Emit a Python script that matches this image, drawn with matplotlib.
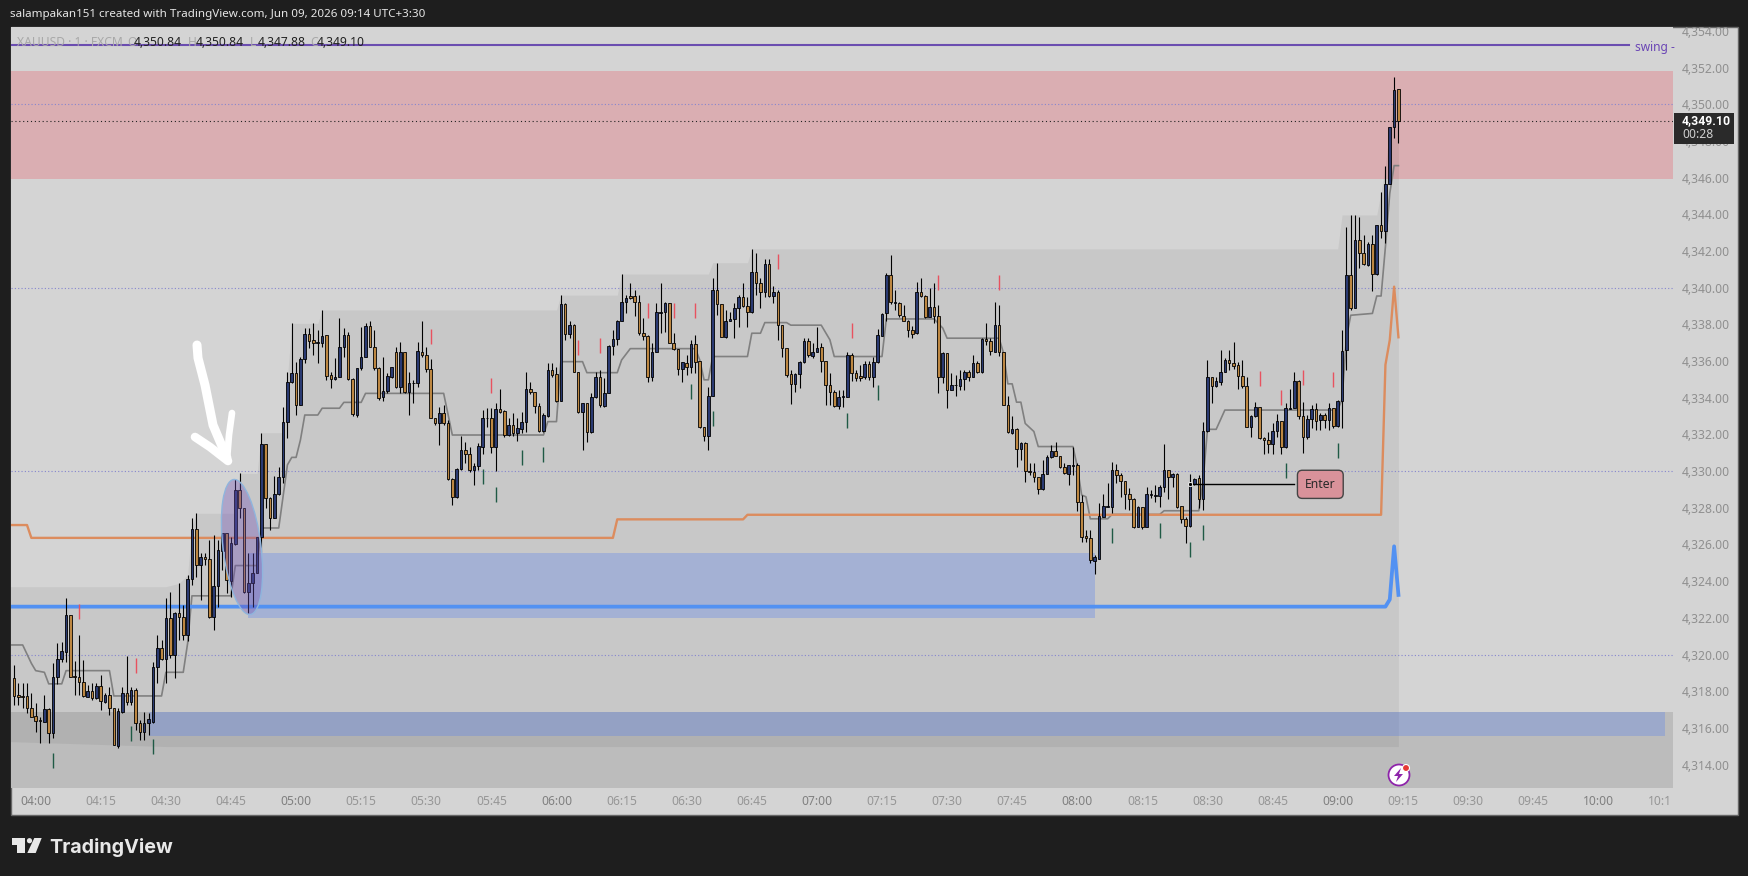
import numpy as np
import matplotlib
matplotlib.use("Agg")
import matplotlib.pyplot as plt
from matplotlib.patches import Rectangle, Ellipse, Circle, Polygon
from matplotlib.transforms import Affine2D, Bbox

plt.rcParams['font.family'] = ['Noto Sans', 'DejaVu Sans']

# one candle per minute, first candle is 5 minutes before 04:00
opens = [
    4318.70,4317.79,4317.74,4317.74,4317.07,4316.65,4316.43,4316.34,4317.01,4315.70,
    4318.79,4319.74,4320.16,4322.16,4318.83,4318.79,4318.52,4317.70,4318.03,4317.61,
    4318.29,4317.43,4317.78,4317.07,4315.02,4316.89,4317.92,4317.43,4318.07,4316.29,
    4315.80,4316.25,4316.34,4319.30,4320.34,4319.74,4321.98,4319.98,4322.25,4322.07,
    4321.07,4324.10,4326.83,4324.88,4325.30,4325.19,4322.03,4323.76,4325.67,4326.61,
    4324.03,4326.03,4328.97,4327.97,4323.43,4323.92,4324.43,4326.39,4331.48,4328.52,
    4327.43,4328.74,4329.70,4332.70,4334.84,4335.34,4333.61,4336.10,4337.46,4337.15,
    4337.01,4337.01,4337.43,4335.24,4335.03,4335.16,4336.79,4337.43,4335.01,4333.06,
    4335.61,4336.24,4337.92,4336.79,4335.61,4334.03,4334.37,4335.16,4336.48,4334.57,
    4336.48,4334.34,4334.79,4334.79,4336.52,4336.34,4335.55,4332.88,4332.65,4333.15,
    4332.61,4329.56,4328.57,4330.12,4331.16,4330.92,4330.06,4330.28,4331.34,4332.88,
    4332.88,4331.34,4333.37,4333.28,4331.97,4332.52,4332.10,4332.30,4332.66,4334.46,
    4334.34,4333.57,4332.21,4333.03,4335.52,4335.28,4333.85,4339.10,4337.46,4337.97,
    4335.43,4333.25,4333.70,4332.12,4334.03,4335.12,4333.57,4334.25,4336.84,4337.19,
    4338.21,4339.21,4339.55,4339.55,4339.21,4337.55,4337.39,4335.12,4336.48,4338.62,
    4338.66,4339.15,4337.01,4336.64,4335.55,4335.92,4335.66,4336.92,4335.98,4332.40,
    4331.89,4334.10,4339.88,4339.12,4337.34,4338.16,4338.28,4338.92,4339.48,4339.03,
    4338.67,4340.85,4340.25,4339.76,4341.30,4339.56,4339.79,4337.98,4336.70,4335.29,
    4334.74,4335.29,4335.94,4337.10,4336.30,4336.49,4336.76,4336.01,4334.70,4334.29,
    4333.56,4334.03,4334.03,4336.34,4335.34,4335.19,4335.12,4335.85,4335.12,4335.94,
    4337.39,4338.61,4340.70,4339.17,4339.16,4338.48,4338.21,4337.70,4337.52,4339.76,
    4339.56,4338.43,4338.94,4338.48,4335.12,4336.43,4334.40,4334.68,4334.65,4335.01,
    4335.40,4335.16,4335.89,4335.38,4337.19,4337.10,4336.52,4337.96,4336.49,4333.58,
    4332.07,4332.30,4331.20,4331.52,4330.01,4329.94,4329.67,4329.01,4329.83,4330.76,
    4331.11,4330.80,4330.21,4329.85,4330.29,4330.34,4328.34,4326.47,4326.34,4325.12,
    4325.23,4327.52,4328.06,4328.06,4330.06,4329.77,4329.44,4328.73,4328.46,4326.97,
    4328.03,4326.97,4328.71,4328.66,4328.66,4329.15,4330.06,4329.70,4329.84,4328.10,
    4327.41,4327.03,4329.28,4329.61,4328.48,4332.19,4335.11,4334.66,4334.88,4335.39,
    4336.06,4335.88,4335.79,4335.20,4334.64,4332.42,4333.01,4333.48,4331.79,4331.70,
    4331.46,4332.21,4332.73,4331.30,4333.40,4333.42,4334.91,4333.02,4331.84,4332.82,
    4333.37,4332.77,4333.04,4332.79,4333.42,4332.46,4333.84,4336.61,4340.70,4338.88,
    4342.60,4341.88,4341.24,4342.39,4340.73,4343.42,4343.10,4345.66,4348.75,4350.84]
highs = [
    4319.43,4318.43,4318.43,4318.43,4317.89,4317.34,4316.61,4317.79,4317.07,4319.52,
    4320.65,4320.70,4323.07,4322.16,4319.67,4321.07,4319.70,4318.34,4318.43,4318.43,
    4318.89,4317.89,4318.25,4317.07,4317.07,4318.25,4319.92,4318.25,4318.16,4316.43,
    4316.89,4316.80,4319.61,4321.07,4320.79,4323.07,4323.43,4322.34,4323.88,4322.70,
    4324.34,4327.43,4327.70,4325.56,4325.52,4326.25,4326.52,4326.25,4326.61,4326.61,
    4326.43,4329.55,4329.88,4327.97,4325.52,4325.52,4326.39,4332.10,4331.48,4328.61,
    4329.74,4330.21,4333.48,4335.43,4338.06,4335.97,4336.24,4337.79,4337.79,4338.06,
    4337.70,4338.79,4337.43,4335.43,4336.16,4338.33,4337.79,4337.61,4335.06,4335.61,
    4337.88,4338.06,4338.21,4337.70,4335.70,4336.24,4335.34,4335.70,4336.75,4337.06,
    4336.48,4335.43,4334.97,4337.06,4338.19,4336.79,4336.10,4332.88,4333.52,4333.61,
    4332.79,4329.61,4330.16,4331.92,4331.61,4331.34,4330.43,4331.52,4333.34,4333.43,
    4333.43,4333.70,4334.46,4333.34,4332.88,4333.15,4332.88,4333.25,4335.43,4334.88,
    4334.34,4333.70,4333.15,4335.92,4335.88,4335.70,4339.61,4339.15,4338.21,4338.03,
    4335.43,4333.70,4333.70,4334.28,4335.43,4335.52,4335.06,4336.88,4337.70,4338.24,
    4340.75,4339.61,4340.24,4339.88,4339.61,4338.33,4337.43,4336.97,4339.15,4340.24,
    4339.24,4339.15,4337.52,4336.64,4335.97,4336.34,4337.15,4337.43,4335.98,4332.43,
    4334.61,4340.52,4341.34,4339.12,4338.76,4338.70,4339.16,4339.61,4340.25,4339.52,
    4342.10,4341.88,4340.52,4341.56,4341.56,4340.07,4339.88,4337.98,4336.70,4335.52,
    4335.34,4335.98,4337.25,4337.25,4336.98,4337.88,4336.98,4336.01,4335.34,4334.43,
    4334.43,4334.43,4336.47,4336.43,4335.52,4335.79,4335.98,4335.98,4336.25,4337.74,
    4338.61,4340.79,4341.79,4339.88,4339.25,4339.07,4338.25,4337.92,4340.34,4340.52,
    4339.61,4339.97,4340.25,4339.07,4336.52,4336.43,4335.34,4335.25,4335.52,4335.52,
    4335.52,4336.34,4335.98,4337.25,4338.07,4337.25,4339.21,4339.07,4336.49,4334.07,
    4332.98,4332.34,4331.61,4331.61,4330.43,4330.43,4329.67,4330.61,4330.89,4331.43,
    4331.61,4330.80,4330.43,4330.34,4331.34,4330.43,4328.71,4326.80,4326.80,4325.43,
    4328.24,4328.75,4329.33,4330.48,4330.39,4329.88,4329.48,4329.06,4328.52,4328.10,
    4328.06,4329.12,4328.97,4329.24,4329.24,4331.48,4330.06,4329.92,4329.88,4328.10,
    4327.52,4329.84,4329.61,4329.79,4332.66,4336.06,4335.15,4335.15,4336.60,4336.15,
    4336.60,4337.02,4335.97,4336.06,4335.15,4333.06,4333.79,4333.51,4331.88,4332.15,
    4332.61,4333.11,4332.73,4333.70,4334.46,4335.39,4334.97,4333.79,4333.06,4333.61,
    4333.70,4333.19,4333.15,4333.70,4333.42,4333.88,4337.69,4343.33,4343.97,4343.97,
    4343.88,4342.88,4342.51,4342.88,4343.42,4345.20,4346.66,4348.75,4351.47,4350.84]
lows = [
    4317.25,4317.25,4317.07,4316.80,4316.61,4315.80,4315.16,4316.34,4315.16,4315.43,
    4318.38,4319.61,4319.61,4318.79,4317.79,4317.79,4317.70,4317.70,4317.52,4317.56,
    4316.98,4317.34,4316.71,4315.07,4314.89,4316.80,4317.25,4317.25,4315.89,4315.34,
    4315.34,4315.61,4316.25,4318.43,4319.70,4318.43,4319.79,4318.70,4320.79,4320.79,
    4320.76,4323.79,4324.25,4322.98,4324.88,4321.98,4321.34,4322.61,4324.61,4323.34,
    4323.16,4325.97,4327.43,4323.34,4322.25,4322.61,4324.43,4325.61,4327.97,4326.79,
    4327.43,4328.70,4329.34,4331.79,4334.79,4333.06,4333.61,4335.88,4336.70,4336.34,
    4335.88,4336.79,4334.97,4334.52,4334.97,4335.16,4336.24,4334.97,4333.03,4332.97,
    4335.52,4336.24,4336.79,4335.52,4333.88,4333.85,4334.25,4335.06,4334.52,4334.28,
    4334.25,4333.06,4333.70,4334.61,4336.24,4335.43,4332.88,4332.52,4331.43,4332.52,
    4329.52,4328.16,4328.52,4330.06,4330.43,4329.97,4329.25,4330.06,4330.94,4332.43,
    4330.97,4330.03,4333.19,4331.88,4331.92,4331.92,4331.66,4332.06,4332.16,4334.21,
    4333.15,4332.16,4332.16,4332.97,4335.16,4333.79,4333.85,4337.15,4337.24,4335.43,
    4333.15,4331.16,4331.61,4332.10,4333.97,4333.52,4333.52,4334.25,4336.34,4336.88,
    4338.21,4338.61,4339.37,4338.48,4337.43,4337.15,4334.88,4334.94,4336.48,4337.52,
    4337.61,4336.97,4336.61,4335.24,4334.88,4335.24,4335.34,4335.34,4332.34,4331.67,
    4331.16,4334.07,4338.52,4337.34,4337.25,4338.16,4337.25,4337.88,4338.97,4337.88,
    4338.65,4339.61,4338.88,4339.52,4339.52,4339.16,4337.16,4336.21,4335.16,4333.65,
    4334.29,4334.52,4335.89,4336.25,4336.16,4336.49,4335.43,4333.61,4333.61,4333.52,
    4333.38,4333.52,4334.03,4334.89,4334.89,4334.89,4335.01,4334.98,4334.61,4335.92,
    4337.37,4338.16,4339.12,4338.79,4338.39,4338.16,4337.34,4337.25,4337.48,4339.52,
    4338.34,4338.39,4338.07,4334.25,4334.80,4333.43,4334.40,4334.10,4334.43,4334.43,
    4334.89,4335.16,4335.34,4335.34,4336.89,4336.34,4336.52,4336.28,4333.61,4332.10,
    4332.03,4330.25,4330.61,4329.43,4329.80,4329.43,4328.74,4328.98,4329.83,4330.71,
    4330.80,4330.16,4329.83,4329.25,4329.80,4327.85,4326.16,4326.16,4324.98,4324.38,
    4325.23,4327.52,4328.06,4327.73,4329.37,4328.61,4327.92,4327.88,4326.88,4326.93,
    4326.83,4326.97,4328.52,4328.34,4328.06,4328.84,4328.46,4329.15,4327.97,4327.15,
    4326.06,4326.97,4329.24,4327.97,4327.88,4332.15,4333.70,4334.60,4334.70,4335.39,
    4335.51,4335.55,4334.46,4334.51,4332.39,4331.88,4332.97,4331.73,4330.92,4331.01,
    4330.92,4331.84,4330.92,4331.28,4333.37,4333.42,4332.84,4331.01,4331.73,4332.33,
    4332.24,4332.24,4332.33,4332.24,4332.33,4332.42,4332.33,4335.52,4338.79,4338.88,
    4341.10,4341.24,4341.20,4339.84,4340.70,4342.70,4342.46,4345.64,4348.15,4347.88]
closes = [
    4317.76,4317.70,4317.70,4317.07,4316.61,4316.40,4316.38,4317.01,4315.70,4318.79,
    4319.74,4320.19,4322.16,4318.79,4318.78,4318.52,4317.74,4318.03,4317.61,4318.29,
    4317.47,4317.78,4317.07,4315.07,4316.92,4317.92,4317.43,4318.07,4316.29,4315.80,
    4316.25,4316.49,4319.30,4320.34,4319.74,4321.98,4319.98,4322.25,4322.07,4321.07,
    4324.10,4326.83,4324.88,4325.30,4325.19,4322.03,4323.76,4325.70,4326.61,4324.07,
    4326.07,4328.97,4327.97,4323.43,4323.92,4324.43,4326.39,4331.48,4328.52,4327.43,
    4328.74,4329.70,4332.70,4334.84,4335.34,4333.61,4336.10,4337.46,4337.12,4337.01,
    4337.04,4337.39,4335.19,4335.03,4335.16,4336.79,4337.43,4335.01,4333.10,4335.61,
    4336.24,4337.92,4336.79,4335.61,4333.97,4334.37,4335.19,4335.66,4334.57,4336.48,
    4334.34,4334.79,4334.83,4336.55,4336.32,4335.55,4332.88,4332.65,4333.15,4332.61,
    4329.56,4328.57,4330.12,4331.16,4330.92,4330.06,4330.28,4331.37,4332.88,4332.92,
    4331.34,4333.37,4333.25,4331.97,4332.52,4332.10,4332.34,4332.66,4334.46,4334.32,
    4333.57,4332.21,4333.06,4335.52,4335.24,4333.85,4339.10,4337.46,4337.97,4335.43,
    4333.25,4333.70,4332.12,4334.03,4335.12,4333.61,4334.25,4336.84,4337.19,4338.21,
    4339.21,4339.46,4339.42,4339.21,4337.55,4337.39,4335.12,4336.48,4338.66,4338.66,
    4339.15,4337.01,4336.64,4335.55,4335.94,4335.66,4336.92,4335.97,4332.40,4331.89,
    4334.07,4339.88,4339.12,4337.34,4338.19,4338.28,4338.92,4339.48,4339.03,4338.67,
    4340.85,4340.25,4339.76,4341.30,4339.56,4339.79,4337.98,4336.70,4335.25,4334.74,
    4335.29,4335.94,4337.10,4336.34,4336.52,4336.74,4336.01,4334.70,4334.29,4333.56,
    4334.03,4334.07,4336.34,4335.34,4335.07,4335.07,4335.85,4335.12,4335.94,4337.43,
    4338.58,4340.70,4339.21,4339.21,4338.52,4338.21,4337.70,4337.48,4339.76,4339.56,
    4338.43,4338.94,4338.46,4335.12,4336.43,4334.40,4334.70,4334.72,4335.01,4335.43,
    4335.16,4335.89,4335.38,4337.19,4337.09,4336.56,4337.96,4336.49,4333.61,4332.12,
    4332.29,4331.20,4331.56,4330.01,4329.96,4329.67,4329.01,4329.83,4330.76,4331.11,
    4330.80,4330.21,4329.89,4330.31,4330.33,4328.34,4326.43,4326.34,4325.16,4325.29,
    4327.55,4328.10,4328.12,4330.06,4329.77,4329.44,4328.73,4328.46,4326.93,4328.03,
    4326.97,4328.73,4328.75,4328.70,4329.15,4330.06,4329.70,4329.84,4328.06,4327.41,
    4327.03,4329.34,4329.57,4328.48,4332.19,4335.11,4334.66,4334.91,4335.39,4336.06,
    4335.88,4335.75,4335.20,4334.64,4332.42,4333.02,4333.48,4331.79,4331.68,4331.46,
    4332.21,4332.73,4331.30,4333.42,4333.44,4334.91,4333.02,4331.84,4332.82,4333.37,
    4332.73,4333.06,4332.79,4333.42,4332.46,4333.84,4336.57,4340.70,4338.88,4342.60,
    4341.88,4341.28,4342.39,4340.73,4343.42,4343.10,4345.66,4348.75,4350.78,4349.10]

# indicator lines as (minute, price) corner points
gray_m = [-6,-3,-1,0,2,3,6,7,17,18,29,30,34,35,36,45,46,51,52,56,58,59,60,61,62,65,66,70,71,75,76,94,96,117,118,120,
          121,126,127,134,135,137,152,153,154,155,156,164,165,167,168,173,174,181,183,184,195,196,207,209,210,222,
          223,224,225,226,227,228,230,231,239,240,241,242,243,247,248,259,260,268,269,270,272,274,300,301,302,303,
          308,309,310,311,312,313,314]
gray_p = [4320.52,4320.52,4319.52,4319.12,4319.03,4318.4,4318.4,4319.12,4319.12,4317.74,4317.74,4319.03,4319.03,
          4320.6,4323.2,4323.2,4324.85,4324.85,4326.9,4326.9,4330.34,4330.75,4330.75,4331.7,4333.06,4333.06,4333.43,
          4333.43,4333.75,4333.75,4334.24,4334.24,4331.97,4331.97,4332.7,4332.7,4335.97,4335.97,4335.37,4335.37,
          4336.06,4336.68,4336.68,4336.07,4334.98,4334.98,4336.25,4336.25,4337.52,4337.52,4338.1,4338.1,4337.96,
          4337.96,4337.16,4336.25,4336.25,4338.3,4338.3,4337.8,4337.25,4337.25,4336.43,4334.76,4334.76,4333.76,
          4333.76,4332.6,4332.16,4331.34,4331.34,4330.25,4328.7,4328.6,4327.4,4327.4,4327.64,4327.64,4327.84,
          4327.84,4329.5,4332.28,4332.28,4333.33,4333.33,4333.9,4337.24,4338.5,4338.6,4339.55,4339.55,4342.24,
          4345.15,4346.66,4346.66]
orange_m = [-6,-2,-1,133,134,163,164,310,311,312,313,314]
orange_p = [4327.06,4327.06,4326.36,4326.36,4327.37,4327.37,4327.62,4327.62,4335.8,4337.15,4340.06,4337.3]
blue_m = [-6,311,312,313,314]
blue_p = [4322.61,4322.61,4323.0,4325.9,4323.25]

# stepped range behind the candles
range_hi_m = [-6,30,33,35,36,37,46,47,51,52,57,59,65,66,120,121,134,135,155,156,164,165,300,301,309,310,311,312,313,314]
range_hi_p = [4323.7,4323.7,4323.88,4324.34,4327.0,4327.7,4327.7,4329.88,4329.88,4332.1,4332.1,4338.06,4338.06,
              4338.79,4338.79,4339.6,4339.6,4340.75,4340.75,4341.37,4341.37,4342.12,4342.12,4343.97,4343.97,
              4345.24,4346.66,4348.75,4350.8,4350.8]
range_lo_m = [-6,17,18,314]
range_lo_p = [4315.25,4315.25,4314.98,4314.98]

# signal ticks
red_m = [10,23,91,105,125,130,141,147,152,171,188,208,222,282,287,292,299]
red_p = [4322.32,4319.38,4337.33,4334.66,4336.75,4336.84,4338.75,4338.75,4338.75,4341.43,4337.67,4340.30,4340.30,
         4335.04,4334.02,4335.10,4335.00]
green_m = [4,22,27,103,106,112,117,151,156,187,194,248,259,266,269,288,300]
green_p = [4314.22,4315.71,4314.98,4329.70,4328.70,4330.76,4330.90,4334.34,4332.85,4332.76,4334.30,4326.48,4326.75,
           4325.70,4326.66,4330.06,4331.15]

price_ticks = [4314,4316,4318,4320,4322,4324,4326,4328,4330,4332,4334,4336,4338,4340,4342,4344,4346,4348,4350,4352,4354]
time_ticks = [0,15,30,45,60,75,90,105,120,135,150,165,180,195,210,225,240,255,270,285,300,315,330,345,360,375]
time_labels = ["04:00","04:15","04:30","04:45","05:00","05:15","05:30","05:45","06:00","06:15","06:30","06:45",
               "07:00","07:15","07:30","07:45","08:00","08:15","08:30","08:45","09:00","09:15","09:30","09:45",
               "10:00","10:15"]
grid_prices = [4320,4330,4340,4350]
last_price = 4349.10

W, H = 1748, 876
DARK = "#1e1e1e"
px = Affine2D().scale(1, -1).translate(0, H)  # screen pixels, y going down

fig = plt.figure(figsize=(W/100, H/100), dpi=100, facecolor=DARK)
fig.add_artist(Rectangle((11, 27), 1727, 788, transform=px, fc="#d4d4d4", ec="#666666", lw=1, zorder=-1))

ax = fig.add_axes([11/W, (H-788)/H, (1673-11)/W, (788-27)/H], facecolor="#d4d4d4")
ax.set_xlim(-5.69, 377.26)
ax.set_ylim(4312.72, 4354.22)
for s in ax.spines.values():
    s.set_visible(False)

# zones
ax.axhspan(4345.95, 4351.8, color="#eb5966", alpha=0.3, lw=0, zorder=1)
ax.axhspan(4312.72, 4316.88, color="black", alpha=0.11, lw=0, zorder=1)
ax.fill_between(range_hi_m, np.interp(range_hi_m, range_lo_m, range_lo_p), range_hi_p, color="black", alpha=0.055, lw=0, zorder=1.1)
ax.add_patch(Rectangle((49, 4322.0), 244-49, 3.52, fc="#537ff0", alpha=0.3, lw=0, zorder=1.2))
ax.add_patch(Rectangle((26, 4315.58), 375.5-26, 1.3, fc="#537ff0", alpha=0.3, lw=0, zorder=1.2))

for g in grid_prices:
    ax.axhline(g, color="#8585cf", lw=0.8, ls=(0, (1, 2)), zorder=1.5)
ax.axhline(last_price, color="#222222", lw=0.8, ls=(0, (1, 2.5)), zorder=1.5)

# indicator lines
ax.plot(gray_m, gray_p, color="#808080", lw=1.2, zorder=2)
ax.plot(orange_m, orange_p, color="#dc8c5e", lw=1.7, zorder=2.1)
ax.plot(blue_m, blue_p, color="#5291f2", lw=2.7, zorder=2.1)
ax.plot([-6, 367.1], [4353.25, 4353.25], color="#6b4db0", lw=1.5, zorder=2.1)
ax.text(368.4, 4353.1, "swing -", color="#6a45b5", fontsize=8.6, va="center", ha="left", zorder=3)

# candles
minutes = np.arange(-5, 315)
o = np.array(opens)
c = np.array(closes)
colors = np.where(c >= o, "#2a3a72", "#bd8742")
ax.vlines(minutes, lows, highs, color="black", lw=0.8, zorder=3)
ax.bar(minutes, c - o, bottom=o, width=0.6, color=colors, edgecolor="black", lw=0.6, zorder=3.1)
ax.vlines(red_m, np.array(red_p) - 0.41, np.array(red_p) + 0.41, color="#e8525f", lw=1.0, zorder=3)
ax.vlines(green_m, np.array(green_p) - 0.41, np.array(green_p) + 0.41, color="#1f5a45", lw=1.0, zorder=3)

# Enter label
ax.plot([266, 290], [4329.28, 4329.28], color="black", lw=1, zorder=3.2)
ax.plot([266], [4329.28], "o", ms=3, mfc="black", mec="white", mew=0.6, zorder=3.3)
ax.text(296, 4329.28, "Enter", color="#2a2a2a", fontsize=8.8, ha="center", va="center", zorder=4,
        bbox=dict(boxstyle="round,pad=0.62,rounding_size=0.4", fc="#d9929a", ec="#444444", lw=1))

# hand drawings
ax.add_patch(Ellipse((242, 547), 38, 136, angle=-7, transform=px, fc=(0.43, 0.31, 0.71, 0.36),
                     ec="#8fb5dd", lw=1, zorder=4))
ax.plot([197, 198, 205, 213, 227], [345, 358, 385, 425, 458], transform=px, color="white", lw=6.5, solid_capstyle="round", solid_joinstyle="round", zorder=5)
ax.plot([195, 210, 228], [437, 447, 461], transform=px, color="white", lw=6.2, solid_capstyle="round", solid_joinstyle="round", zorder=5)
ax.plot([232, 229, 227], [413, 435, 460], transform=px, color="white", lw=4.8, solid_capstyle="round", solid_joinstyle="round", zorder=5)

# axis ticks
ax.yaxis.tick_right()
ax.set_yticks(price_ticks)
ax.set_yticklabels([f"{p:,.2f}" for p in price_ticks])
ax.set_xticks(time_ticks)
ax.set_xticklabels(time_labels)
ax.tick_params(axis="y", length=0, pad=6.4, labelsize=8.7, labelcolor="#8f8f8f")
ax.tick_params(axis="x", length=0, pad=5, labelsize=8.7, labelcolor="#969696")
for lab in ax.get_xticklabels():
    if lab.get_text().endswith(":00"):
        lab.set_color("#808080")
    lab.set_clip_on(True)
    lab.set_clip_box(Bbox([[11, H-815], [1671, H-788]]))

# last price box
ax.add_patch(Rectangle((1674, 113), 60, 31, transform=px, fc="#2a2a2a", lw=0, clip_on=False, zorder=6))
ax.text(1682, 121, f"{last_price:,.2f}", transform=px, color="white", fontsize=8.8, fontweight="bold", family=["Roboto", "DejaVu Sans"], va="center", clip_on=False, zorder=7)
ax.text(1682, 135, "00:28", transform=px, color="#d0d0d0", fontsize=8.7, va="center", clip_on=False, zorder=7)

# legend line
legend_parts = [(17, "XAUUSD · 1 · FXCM", "#a8a8a8"), (127, "O", "#a8a8a8"), (134, "4,350.84", "#222222"),
                (188, "H", "#a8a8a8"), (196, "4,350.84", "#222222"), (250, "L", "#a8a8a8"),
                (258, "4,347.88", "#222222"), (310, "C", "#a8a8a8"), (317, "4,349.10", "#222222")]
for lx, txt, col in legend_parts:
    ax.text(lx, 42.5, txt, transform=px, color=col, fontsize=8.7, va="center", zorder=6)

# lightning badge
ax.add_patch(Circle((1399, 775), 10.5, transform=px, fc="white", ec="#8e24aa", lw=1.3, zorder=6))
ax.add_patch(Polygon([(1401, 768), (1394, 776), (1398, 776), (1396, 782), (1403, 774), (1399, 774)], transform=px, fc="#8e24aa", lw=0, zorder=7))
ax.add_patch(Circle((1406, 768), 3.5, transform=px, fc="#e53935", ec="white", lw=0.8, zorder=8))

# header strip, covers the top of the first price label
top = fig.add_axes([0, (H-26)/H, 1, 26/H], facecolor=DARK, zorder=5)
top.set_xticks([])
top.set_yticks([])
for s in top.spines.values():
    s.set_visible(False)
fig.text(10/W, 1-15/H, "salampakan151 created with TradingView.com, Jun 09, 2026 09:14 UTC+3:30",
         color="#e6e6e6", fontsize=8.35, va="center", zorder=10)

# footer logo
fig.add_artist(Polygon([(12, 838), (25, 838), (25, 853), (17, 853), (17, 845), (12, 845)], transform=px, fc="#e8e8e8", lw=0))
fig.add_artist(Circle((29.5, 840.7), 2.6, transform=px, fc="#e8e8e8", lw=0))
fig.add_artist(Polygon([(34.3, 838), (41.7, 838), (35.7, 853), (27.3, 853)], transform=px, fc="#e8e8e8", lw=0))
fig.text(49/W, 1-853/H, "TradingView", color="#e8e8e8", fontsize=14.2, fontweight="bold", family=["Inter", "DejaVu Sans"], va="baseline", zorder=10)

fig.savefig("out.png", dpi=100, facecolor=DARK)
